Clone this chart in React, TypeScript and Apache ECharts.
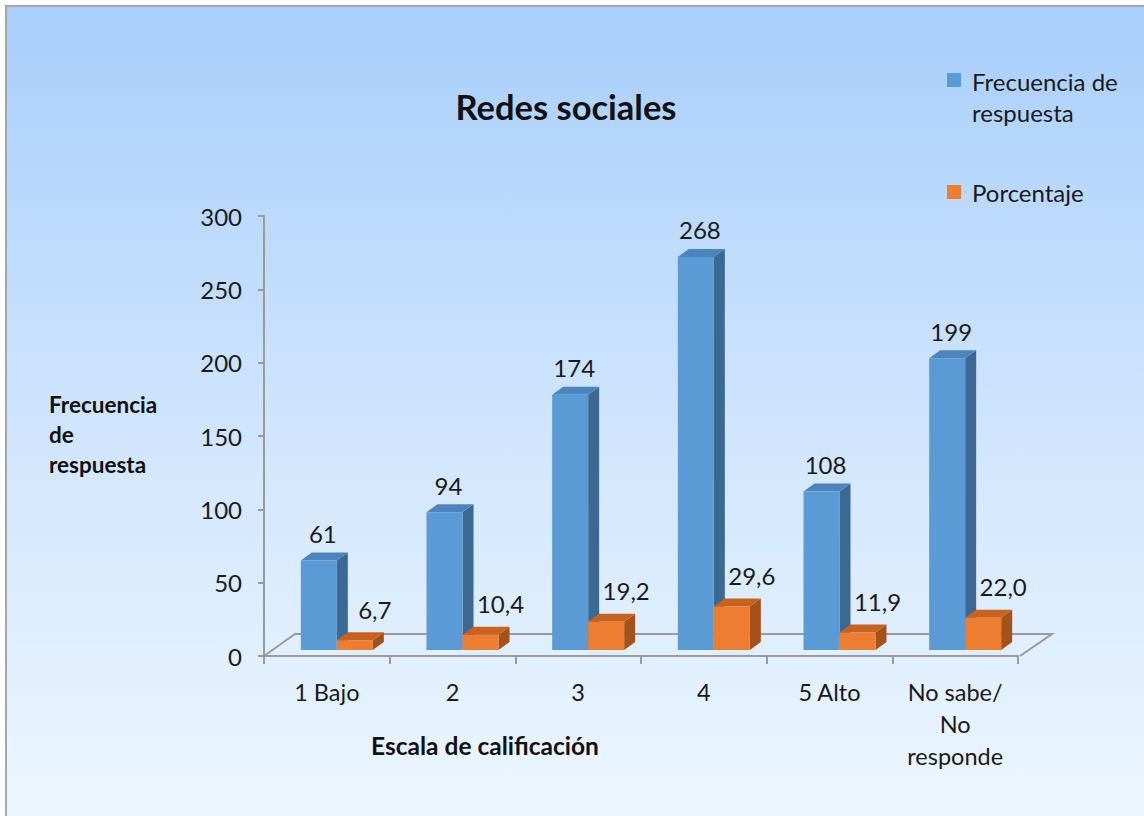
import React, { useEffect, useRef } from "react";
import * as echarts from "echarts";

const categories = ["1 Bajo", "2", "3", "4", "5 Alto", "No sabe/\nNo\nresponde"];
const frecuencia = [61, 94, 174, 268, 108, 199];
const porcentaje = [6.7, 10.4, 19.2, 29.6, 11.9, 22.0];
const yTicks = { min: 0, max: 300, interval: 50 };

const FONT = "Lato, 'Noto Sans', sans-serif";
const BAR_W = 36;
const DEPTH_X = 11;
const DEPTH_Y = 8;
const SHIFT_X = 10;
const SHIFT_Y = -6;

const BLUE = { front: "#5B9BD5", top: "#4C84BE", side: "#3C6894" };
const ORANGE = { front: "#ED7D31", top: "#C8621F", side: "#A4521A" };

function makeRender(side: "left" | "right", c: { front: string; top: string; side: string }, fmt: (v: number) => string, labelDx: number, labelDy: number) {
  return (params: any, api: any) => {
    const idx = api.value(0);
    const val = api.value(1);
    const topP = api.coord([idx, val]);
    const baseP = api.coord([idx, 0]);
    const cx = topP[0] + SHIFT_X;
    const x0 = side === "left" ? cx - BAR_W : cx;
    const x1 = x0 + BAR_W;
    const yT = topP[1] + SHIFT_Y;
    const yB = baseP[1] + SHIFT_Y;
    return {
      type: "group",
      children: [
        {
          type: "polygon",
          shape: { points: [[x1, yB], [x1 + DEPTH_X, yB - DEPTH_Y], [x1 + DEPTH_X, yT - DEPTH_Y], [x1, yT]] },
          style: { fill: c.side },
        },
        {
          type: "polygon",
          shape: { points: [[x0, yT], [x0 + DEPTH_X, yT - DEPTH_Y], [x1 + DEPTH_X, yT - DEPTH_Y], [x1, yT]] },
          style: { fill: c.top },
        },
        {
          type: "rect",
          shape: { x: x0, y: yT, width: BAR_W, height: yB - yT },
          style: { fill: c.front },
        },
        {
          type: "text",
          x: x0 + BAR_W / 2 + labelDx,
          y: yT - labelDy,
          style: {
            text: fmt(val),
            fill: "#1a1a1a",
            fontSize: 24,
            fontFamily: FONT,
            align: "center",
            verticalAlign: "middle",
          },
        },
      ],
    };
  };
}

const ICON1 = "path://M0,0h14v14h-14z M19.99,47.99h0.01v0.01h-0.01z";
const ICON2 = "path://M0,0h0.01v0.01h-0.01z M0,17h14v14h-14z M19.99,47.99h0.01v0.01h-0.01z";

export default function App() {
  const ref = useRef<HTMLDivElement>(null);
  useEffect(() => {
    document.body.style.margin = "0";
    const chart = echarts.init(ref.current!, null, { renderer: "svg" });
    const option: any = {
      animation: false,
      graphic: [
        {
          type: "rect",
          z: -10,
          shape: { x: 6, y: 6, width: 1160, height: 830 },
          style: {
            fill: new echarts.graphic.LinearGradient(0, 0, 0, 1, [
              { offset: 0, color: "#A8CEFC" },
              { offset: 0.5, color: "#CFE5FD" },
              { offset: 1, color: "#EEF7FF" },
            ]),
            stroke: "#A6A6A6",
            lineWidth: 2,
          },
        },
      ],
      title: [
        {
          text: "Redes sociales",
          left: 566,
          top: 106,
          padding: 0,
          textAlign: "center",
          textVerticalAlign: "middle",
          textStyle: { fontFamily: FONT, fontSize: 34.5, fontWeight: "bold", color: "#111" },
        },
        {
          text: "Frecuencia\nde\nrespuesta",
          left: 49,
          top: 389,
          padding: 0,
          textAlign: "left",
          textVerticalAlign: "top",
          textStyle: { fontFamily: FONT, fontSize: 22.5, fontWeight: "bold", color: "#111", lineHeight: 30 },
        },
        {
          text: "Escala de calificación",
          left: 485,
          top: 745,
          padding: 0,
          textAlign: "center",
          textVerticalAlign: "middle",
          textStyle: { fontFamily: FONT, fontSize: 24.5, fontWeight: "bold", color: "#111" },
        },
      ],
      legend: {
        orient: "vertical",
        left: 947,
        top: 66,
        padding: 0,
        itemGap: 40,
        itemWidth: 20,
        itemHeight: 48,
        selectedMode: false,
        data: [
          { name: "Frecuencia de respuesta", icon: ICON1 },
          { name: "Porcentaje", icon: ICON2 },
        ],
        formatter: (n: string) => (n === "Frecuencia de respuesta" ? "Frecuencia de\nrespuesta" : n),
        textStyle: { fontFamily: FONT, fontSize: 24, lineHeight: 31, color: "#1a1a1a" },
      },
      grid: { left: 264, right: 126, top: 216, bottom: 160, containLabel: false },
      xAxis: {
        type: "category",
        data: categories,
        boundaryGap: true,
        axisLine: { lineStyle: { color: "#9A9A9A", width: 2 } },
        axisTick: { show: true, length: 8, alignWithLabel: false, lineStyle: { color: "#9A9A9A", width: 2 } },
        axisLabel: { margin: 20, fontFamily: FONT, fontSize: 23.5, lineHeight: 32, color: "#1a1a1a", interval: 0 },
        splitLine: { show: false },
      },
      yAxis: {
        type: "value",
        min: yTicks.min,
        max: yTicks.max,
        interval: yTicks.interval,
        axisLine: { show: true, lineStyle: { color: "#9A9A9A", width: 2 } },
        axisTick: { show: true, length: 6, lineStyle: { color: "#9A9A9A", width: 2 } },
        axisLabel: { margin: 22, fontFamily: FONT, fontSize: 24, color: "#1a1a1a" },
        splitLine: { show: false },
      },
      series: [
        {
          type: "custom",
          name: "floor",
          silent: true,
          z: 1,
          data: [[0, 0]],
          renderItem: (params: any, api: any) => {
            const cs = params.coordSys;
            const xl = cs.x, xr = cs.x + cs.width, yb = cs.y + cs.height;
            return {
              type: "polyline",
              shape: { points: [[xl, yb], [xl + 31, yb - 22], [xr + 34, yb - 22], [xr + 2, yb]] },
              style: { stroke: "#9A9A9A", lineWidth: 2, fill: "none" },
            };
          },
        },
        {
          type: "custom",
          name: "Frecuencia de respuesta",
          itemStyle: { color: BLUE.front },
          z: 3,
          data: frecuencia.map((v, i) => [i, v]),
          encode: { x: 0, y: 1 },
          renderItem: makeRender("left", BLUE, (v) => String(v), 4, 27),
        },
        {
          type: "custom",
          name: "Porcentaje",
          itemStyle: { color: ORANGE.front },
          z: 4,
          data: porcentaje.map((v, i) => [i, v]),
          encode: { x: 0, y: 1 },
          renderItem: makeRender("right", ORANGE, (v) => v.toFixed(1).replace(".", ","), 20, 31),
        },
      ],
    };
    chart.setOption(option);
    return () => chart.dispose();
  }, []);
  return <div ref={ref} style={{ width: 1144, height: 816 }} />;
}
